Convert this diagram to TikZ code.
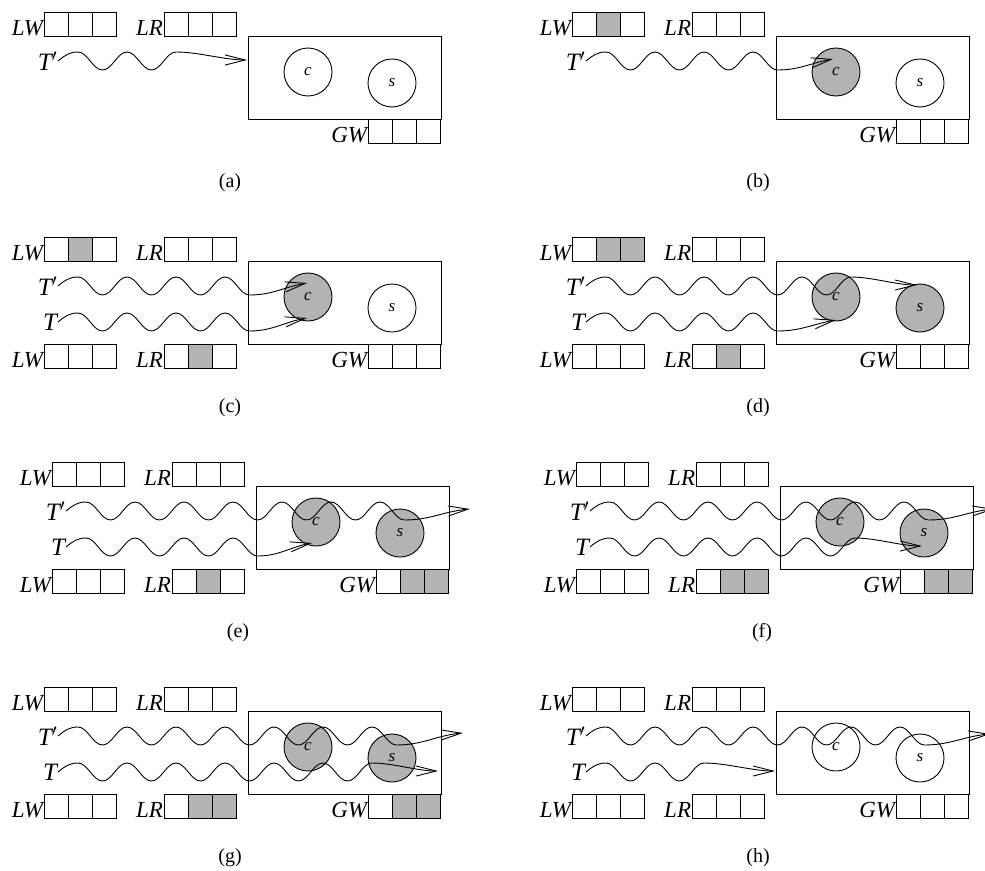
\documentclass[tikz,border=0pt]{standalone}
\usepackage{fontspec}
\setmainfont{Liberation Serif}
\usetikzlibrary{arrows.meta}
\definecolor{busy}{RGB}{179,179,179}

% buffer of three slots: name, label, left x, top y, fills of the slots
\newcommand{\slots}[5]{%
  \node[lbl, anchor=base east] (#1) at (#3,#4-23) {#2};
  \foreach \f [count=\i from 0] in {#5}
    \draw[fill=\f] (#3+24*\i,#4) rectangle +(24,-24);
}
% the site: box, processes c and s, global write buffer, caption
\newcommand{\site}[4]{%
  \draw (248,-36) rectangle (441,-119);
  \node[proc, fill=#2] (c#1) at (308,-72) {c};
  \node[proc, fill=#3] (s#1) at (392,-83) {s};
  \slots{gw#1}{GW}{368}{-119}{#4}
  \node[subcap] (cap#1) at (230,-183) {(#1)};
}

\begin{document}
\begin{tikzpicture}[x=1pt, y=1pt, line width=0.9pt,
  lbl/.style={inner sep=0.5pt, font=\fontsize{23}{23}\selectfont\itshape},
  tag/.style={inner sep=0.5pt, font=\fontsize{25}{25}\selectfont\itshape},
  proc/.style={circle, draw, minimum size=48pt, inner sep=0pt,
    font=\fontsize{17}{17}\selectfont\itshape},
  subcap/.style={font=\fontsize{20}{20}\selectfont},
  signal/.style={-{Straight Barb[length=20pt,width=10pt]}},
  rise/.style={out=40, in=180},
  sway/.style={out=0, in=180, looseness=0.8}]
  \useasboundingbox (0,0) rectangle (985,-870);
  \clip (0,0) rectangle (985,-870);

  % (a) T' on its way to the site
  \begin{scope}
    \site{a}{white}{white}{white,white,white}
    \slots{lwa}{LW}{44}{-12}{white,white,white}
    \slots{lra}{LR}{164}{-12}{white,white,white}
    \node[tag, anchor=east] (tpa) at (58,-61) {T$'$};
    \coordinate (ea) at (247,-60);
    \draw[signal] (tpa.east) to[rise] ++(20,9)
      \foreach \k in {1,2} {to[sway] ++(24.5,-18) to[sway] ++(24.5,18)}
      to[sway] (ea);
  \end{scope}

  % (b) T' reaches c
  \begin{scope}[shift={(528,0)}]
    \site{b}{busy}{white}{white,white,white}
    \slots{lwb}{LW}{44}{-12}{white,busy,white}
    \slots{lrb}{LR}{164}{-12}{white,white,white}
    \node[tag, anchor=east] (tpb) at (58,-61) {T$'$};
    \coordinate (eb) at (305,-59);
    \draw[signal] (tpb.east) to[rise] ++(20,9)
      \foreach \k in {1,...,3} {to[sway] ++(24.5,-18) to[sway] ++(24.5,18)}
      to[sway] ++(24.5,-18) to[out=0,in=190] (eb);
  \end{scope}

  % (c) T reaches c as well
  \begin{scope}[shift={(0,-225)}]
    \site{c}{busy}{white}{white,white,white}
    \slots{lwc}{LW}{44}{-12}{white,busy,white}
    \slots{lrc}{LR}{164}{-12}{white,white,white}
    \slots{lwc2}{LW}{44}{-119}{white,white,white}
    \slots{lrc2}{LR}{164}{-119}{white,busy,white}
    \node[tag, anchor=east] (tpc) at (58,-61) {T$'$};
    \node[tag, anchor=east] (tc) at (58,-97) {T};
    \coordinate (ec) at (307,-58);
    \coordinate (fc) at (307,-93);
    \draw[signal] (tpc.east) to[rise] ++(20,9)
      \foreach \k in {1,...,3} {to[sway] ++(24.5,-18) to[sway] ++(24.5,18)}
      to[sway] ++(24.5,-18) to[out=0,in=190] (ec);
    \draw[signal] (tc.east) to[rise] ++(20,9)
      \foreach \k in {1,...,3} {to[sway] ++(24.5,-18) to[sway] ++(24.5,18)}
      to[sway] ++(24.5,-18) to[out=0,in=190] (fc);
  \end{scope}

  % (d) T' goes on to s
  \begin{scope}[shift={(528,-225)}]
    \site{d}{busy}{busy}{white,white,white}
    \slots{lwd}{LW}{44}{-12}{white,busy,busy}
    \slots{lrd}{LR}{164}{-12}{white,white,white}
    \slots{lwd2}{LW}{44}{-119}{white,white,white}
    \slots{lrd2}{LR}{164}{-119}{white,busy,white}
    \node[tag, anchor=east] (tpd) at (58,-61) {T$'$};
    \node[tag, anchor=east] (td) at (58,-97) {T};
    \coordinate (ed) at (389,-60);
    \coordinate (fd) at (308,-95);
    \draw[signal] (tpd.east) to[rise] ++(20,9)
      \foreach \k in {1,...,5} {to[sway] ++(24.5,-18) to[sway] ++(24.5,18)}
      to[sway] (ed);
    \draw[signal] (td.east) to[rise] ++(20,9)
      \foreach \k in {1,...,3} {to[sway] ++(24.5,-18) to[sway] ++(24.5,18)}
      to[sway] ++(24.5,-18) to[out=0,in=190] (fd);
  \end{scope}

  % (e) T' leaves the site
  \begin{scope}[shift={(8,-450)}]
    \site{e}{busy}{busy}{white,busy,busy}
    \slots{lwe}{LW}{44}{-12}{white,white,white}
    \slots{lre}{LR}{164}{-12}{white,white,white}
    \slots{lwe2}{LW}{44}{-119}{white,white,white}
    \slots{lre2}{LR}{164}{-119}{white,busy,white}
    \node[tag, anchor=east] (tpe) at (58,-61) {T$'$};
    \node[tag, anchor=east] (te) at (58,-97) {T};
    \coordinate (ee) at (462,-59);
    \coordinate (fe) at (304,-93);
    \draw[signal] (tpe.east) to[rise] ++(20,9)
      \foreach \k in {1,...,6} {to[sway] ++(24.5,-18) to[sway] ++(24.5,18)}
      to[sway] ++(24.5,-18) to[out=0,in=185] (ee);
    \draw[signal] (te.east) to[rise] ++(20,9)
      \foreach \k in {1,...,3} {to[sway] ++(24.5,-18) to[sway] ++(24.5,18)}
      to[sway] ++(24.5,-18) to[out=0,in=190] (fe);
  \end{scope}

  % (f) T goes on to s
  \begin{scope}[shift={(532,-450)}]
    \site{f}{busy}{busy}{white,busy,busy}
    \slots{lwf}{LW}{44}{-12}{white,white,white}
    \slots{lrf}{LR}{164}{-12}{white,white,white}
    \slots{lwf2}{LW}{44}{-119}{white,white,white}
    \slots{lrf2}{LR}{164}{-119}{white,busy,busy}
    \node[tag, anchor=east] (tpf) at (58,-61) {T$'$};
    \node[tag, anchor=east] (tf) at (58,-97) {T};
    \coordinate (ef) at (462,-59);
    \coordinate (ff) at (390,-96);
    \draw[signal] (tpf.east) to[rise] ++(20,9)
      \foreach \k in {1,...,6} {to[sway] ++(24.5,-18) to[sway] ++(24.5,18)}
      to[sway] ++(24.5,-18) to[out=0,in=185] (ef);
    \draw[signal] (tf.east) to[rise] ++(20,9)
      \foreach \k in {1,...,5} {to[sway] ++(24.5,-18) to[sway] ++(24.5,18)}
      to[sway] (ff);
  \end{scope}

  % (g) T passes s
  \begin{scope}[shift={(0,-675)}]
    \site{g}{busy}{busy}{white,busy,busy}
    \slots{lwg}{LW}{44}{-12}{white,white,white}
    \slots{lrg}{LR}{164}{-12}{white,white,white}
    \slots{lwg2}{LW}{44}{-119}{white,white,white}
    \slots{lrg2}{LR}{164}{-119}{white,busy,busy}
    \node[tag, anchor=east] (tpg) at (58,-61) {T$'$};
    \node[tag, anchor=east] (tg) at (58,-97) {T};
    \coordinate (eg) at (463,-58);
    \coordinate (fg) at (438,-96);
    \draw[signal] (tpg.east) to[rise] ++(20,9)
      \foreach \k in {1,...,6} {to[sway] ++(24.5,-18) to[sway] ++(24.5,18)}
      to[sway] ++(24.5,-18) to[out=0,in=185] (eg);
    \draw[signal] (tg.east) to[rise] ++(20,9)
      \foreach \k in {1,...,6} {to[sway] ++(24.5,-18) to[sway] ++(24.5,18)}
      to[sway] (fg);
  \end{scope}

  % (h) all buffers empty again
  \begin{scope}[shift={(528,-675)}]
    \site{h}{white}{white}{white,white,white}
    \slots{lwh}{LW}{44}{-12}{white,white,white}
    \slots{lrh}{LR}{164}{-12}{white,white,white}
    \slots{lwh2}{LW}{44}{-119}{white,white,white}
    \slots{lrh2}{LR}{164}{-119}{white,white,white}
    \node[tag, anchor=east] (tph) at (58,-61) {T$'$};
    \node[tag, anchor=east] (th) at (58,-97) {T};
    \coordinate (eh) at (462,-59);
    \coordinate (fh) at (247,-96);
    \draw[signal] (tph.east) to[rise] ++(20,9)
      \foreach \k in {1,...,6} {to[sway] ++(24.5,-18) to[sway] ++(24.5,18)}
      to[sway] ++(24.5,-18) to[out=0,in=185] (eh);
    \draw[signal] (th.east) to[rise] ++(20,9)
      \foreach \k in {1,2} {to[sway] ++(24.5,-18) to[sway] ++(24.5,18)}
      to[sway] (fh);
  \end{scope}
\end{tikzpicture}
\end{document}
